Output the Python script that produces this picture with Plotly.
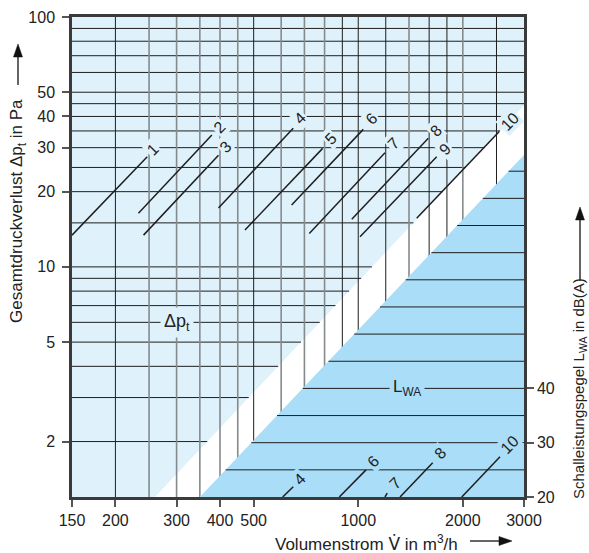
import math
import plotly.graph_objects as go

# ---------------- data ----------------
X_RANGE = [150, 3000]            # Volumenstrom m3/h (log)
DP_RANGE = [1.2, 100]            # Gesamtdruckverlust Pa (log)
DB_RANGE = [20, 108.4]           # Schallleistungspegel dB(A) (linear)

X_TICKS = [150, 200, 300, 400, 500, 1000, 2000, 3000]
DP_TICKS = [2, 5, 10, 20, 30, 40, 50, 100]
DB_TICKS = [20, 30, 40]

VERT_BLACK = [200, 500, 900, 1000, 1200, 1600, 1800, 2500]
VERT_GRAY = [250, 300, 350, 400, 450, 600, 700, 800, 1400, 2000]
DP_GRID = [90, 80, 70, 60, 50, 45, 40, 35, 30, 25, 20, 15, 10, 9, 8, 7, 6, 5, 4, 3, 2]
DB_GRID = [25, 30, 35, 40, 45, 50, 55, 60, 65, 70, 75, 80]

# region boundaries
LIGHT_EDGE_V = [260, 3000]
LIGHT_EDGE_DP = [1.2, 44.2]
DARK_EDGE_V = [350, 3000]
DARK_EDGE_DB = [20, 83.0]

# pressure-loss curves (sizes 1..10)
DP_LABELS = ["1", "2", "3", "4", "5", "6", "7", "8", "9", "10"]
DP_V0 = [150, 233, 241, 396, 472, 643, 723, 958, 1012, 1473]
DP_V1 = [247, 379, 396, 650, 790, 1034, 1194, 1591, 1682, 2547]
DP_P0 = [13.4, 16.4, 13.4, 17.2, 14.05, 17.7, 13.6, 15.5, 13.2, 15.65]
DP_P1 = [27.6, 33.7, 28.0, 35.9, 29.8, 35.5, 28.6, 32.7, 27.6, 34.8]
DP_LAB_V = [256, 398, 416, 680, 833, 1093, 1262, 1674, 1778, 2735]
DP_LAB_P = [29.6, 36.2, 30.3, 39.1, 32.7, 39.3, 31.2, 35.3, 29.4, 38.1]

# sound power curves
LW_LABELS = ["4", "6", "7", "8", "10"]
LW_V0 = [606, 882, 1194, 1319, 1986]
LW_V1 = [650, 1053, 1212, 1638, 2559]
LW_D0 = [20, 20, 20, 20, 20]
LW_D1 = [21.9, 25.0, 20.7, 26.3, 27.4]
LW_LAB_V = [676, 1105, 1276, 1720, 2735]
LW_LAB_D = [23.3, 26.5, 22.5, 28.0, 29.6]

# ---------------- style ----------------
LIGHT = "#dff2fb"
DARK = "#a9ddf8"
BLACK = "#1e1e1e"
GRAY = "#858a8d"
FONT = "Liberation Sans, Arial, sans-serif"
FS = 16

W, H = 589, 553
L, T, R, B = 72, 17, 589 - 524, 553 - 497
PW, PH = W - L - R, H - T - B

fig = go.Figure()

# regions
fig.add_trace(go.Scatter(
    x=[X_RANGE[0], X_RANGE[1], LIGHT_EDGE_V[1], LIGHT_EDGE_V[0], X_RANGE[0]],
    y=[DP_RANGE[1], DP_RANGE[1], LIGHT_EDGE_DP[1], LIGHT_EDGE_DP[0], DP_RANGE[0]],
    fill="toself", fillcolor=LIGHT, mode="none", hoverinfo="skip", showlegend=False))
fig.add_trace(go.Scatter(
    x=[DARK_EDGE_V[0], DARK_EDGE_V[1], X_RANGE[1]],
    y=[DARK_EDGE_DB[0], DARK_EDGE_DB[1], DB_RANGE[0]],
    fill="toself", fillcolor=DARK, mode="none", hoverinfo="skip", showlegend=False,
    yaxis="y2"))


def light_edge_x(p):
    lx0, lx1 = math.log10(LIGHT_EDGE_V[0]), math.log10(LIGHT_EDGE_V[1])
    ly0, ly1 = math.log10(LIGHT_EDGE_DP[0]), math.log10(LIGHT_EDGE_DP[1])
    lx = lx0 + (math.log10(p) - ly0) * (lx1 - lx0) / (ly1 - ly0)
    return min(10 ** lx, X_RANGE[1])


def dark_edge_x(d):
    lx0, lx1 = math.log10(DARK_EDGE_V[0]), math.log10(DARK_EDGE_V[1])
    lx = lx0 + (d - DARK_EDGE_DB[0]) * (lx1 - lx0) / (DARK_EDGE_DB[1] - DARK_EDGE_DB[0])
    return 10 ** lx


def seg_trace(xs, ys, color, width, yaxis="y"):
    fig.add_trace(go.Scatter(x=xs, y=ys, mode="lines", line=dict(color=color, width=width),
                             hoverinfo="skip", showlegend=False, yaxis=yaxis))


# horizontal grid in pressure region
hx, hy = [], []
for p in DP_GRID:
    hx += [X_RANGE[0], light_edge_x(p), None]
    hy += [p, p, None]
seg_trace(hx, hy, BLACK, 1)

# horizontal grid in sound region
sx, sy = [], []
for d in DB_GRID:
    sx += [dark_edge_x(d), X_RANGE[1], None]
    sy += [d, d, None]
seg_trace(sx, sy, BLACK, 1, "y2")

# vertical grid
vx, vy = [], []
for v in VERT_GRAY:
    vx += [v, v, None]
    vy += [DP_RANGE[0], DP_RANGE[1], None]
seg_trace(vx, vy, GRAY, 1.6)
vx, vy = [], []
for v in VERT_BLACK:
    vx += [v, v, None]
    vy += [DP_RANGE[0], DP_RANGE[1], None]
seg_trace(vx, vy, BLACK, 1)

# pressure curves
cx, cy = [], []
for i in range(len(DP_LABELS)):
    cx += [DP_V0[i], DP_V1[i], None]
    cy += [DP_P0[i], DP_P1[i], None]
seg_trace(cx, cy, BLACK, 1.5)

# sound curves
lx_, ly_ = [], []
for i in range(len(LW_LABELS)):
    lx_ += [LW_V0[i], LW_V1[i], None]
    ly_ += [LW_D0[i], LW_D1[i], None]
seg_trace(lx_, ly_, BLACK, 1.5, "y2")

ann = []
for i, t in enumerate(DP_LABELS):
    ann.append(dict(x=math.log10(DP_LAB_V[i]), y=math.log10(DP_LAB_P[i]), xref="x", yref="y",
                    text=t, showarrow=False, textangle=-45, bgcolor=LIGHT, borderpad=1,
                    xanchor="center", yanchor="middle",
                    font=dict(size=FS, color="#222", family=FONT)))
for i, t in enumerate(LW_LABELS):
    ann.append(dict(x=math.log10(LW_LAB_V[i]), y=LW_LAB_D[i], xref="x", yref="y2",
                    text=t, showarrow=False, textangle=-45, bgcolor=DARK, borderpad=1,
                    xanchor="center", yanchor="middle",
                    font=dict(size=FS, color="#222", family=FONT)))

ann.append(dict(x=math.log10(300), y=math.log10(6), xref="x", yref="y", text="Δp<sub>t</sub>",
                showarrow=False, bgcolor=LIGHT, borderpad=3, xanchor="center", yanchor="middle",
                font=dict(size=18, color="#222", family=FONT)))
ann.append(dict(x=math.log10(1380), y=40, xref="x", yref="y2", text="L<sub>WA</sub>",
                showarrow=False, bgcolor=DARK, borderpad=3, xanchor="center", yanchor="middle",
                font=dict(size=17, color="#222", family=FONT)))


# paper coordinates from window pixels
def px(xp):
    return (xp - L) / PW


def py(yp):
    return (H - B - yp) / PH


ann.append(dict(x=px(18), y=py(211), xref="paper", yref="paper", textangle=-90,
                xanchor="center", yanchor="middle",
                text="Gesamtdruckverlust Δp<sub>t</sub> in Pa", showarrow=False,
                font=dict(size=17, color="#222", family=FONT)))
ann.append(dict(x=px(579), y=py(389), xref="paper", yref="paper", textangle=-90,
                xanchor="center", yanchor="middle",
                text="Schalleistungspegel L<sub>WA</sub> in dB(A)", showarrow=False,
                font=dict(size=15, color="#222", family=FONT)))
ann.append(dict(x=px(366), y=py(543), xref="paper", yref="paper",
                xanchor="center", yanchor="middle",
                text="Volumenstrom <span style='font-family:DejaVu Sans'>V̇</span> in m<sup>3</sup>/h",
                showarrow=False,
                font=dict(size=17, color="#222", family=FONT)))

# arrows as shapes (paper coordinates)
shapes = []


def arrow(x0, y0, x1, y1):
    dx, dy = x1 - x0, y1 - y0
    n = math.hypot(dx, dy)
    ux, uy = dx / n, dy / n
    hl, hw = 13, 4.5
    bx, by = x1 - ux * hl, y1 - uy * hl
    shapes.append(dict(type="line", xref="paper", yref="paper",
                       x0=px(x0), y0=py(y0), x1=px(bx), y1=py(by),
                       line=dict(color="#111", width=1.3)))
    pts = [(x1, y1), (bx - uy * hw, by + ux * hw), (bx + uy * hw, by - ux * hw)]
    path = "M " + " L ".join(f"{px(a):.5f},{py(b):.5f}" for a, b in pts) + " Z"
    shapes.append(dict(type="path", xref="paper", yref="paper", path=path,
                       fillcolor="#111", line=dict(color="#111", width=0.5)))


arrow(18, 85, 18, 44)
arrow(580, 281, 580, 207)
arrow(470, 541, 512, 541)

axis_common = dict(showgrid=False, zeroline=False, ticks="outside", ticklen=7, tickwidth=1.5,
                   tickcolor="#555", showline=True, linewidth=2.5, linecolor="#3a3a3a",
                   automargin=False,
                   tickfont=dict(size=FS, color="#222", family=FONT))

fig.update_layout(
    width=W, height=H, margin=dict(l=L, r=R, t=T, b=B, autoexpand=False),
    paper_bgcolor="white", plot_bgcolor="white",
    showlegend=False, annotations=ann, shapes=shapes,
    xaxis=dict(type="log", range=[math.log10(X_RANGE[0]), math.log10(X_RANGE[1])],
               tickvals=X_TICKS, ticktext=[str(v) for v in X_TICKS], mirror=True, **axis_common),
    yaxis=dict(type="log", range=[math.log10(DP_RANGE[0]), math.log10(DP_RANGE[1])],
               tickvals=DP_TICKS, ticktext=[str(v) for v in DP_TICKS], ticklabelstandoff=4,
               **axis_common),
    yaxis2=dict(overlaying="y", side="right", range=DB_RANGE, tickvals=DB_TICKS,
                ticktext=[str(v) for v in DB_TICKS], **axis_common),
)

fig.write_html("out.html", config={"displayModeBar": False},
               post_script="document.body.style.margin='0px';document.body.style.overflow='hidden';")
